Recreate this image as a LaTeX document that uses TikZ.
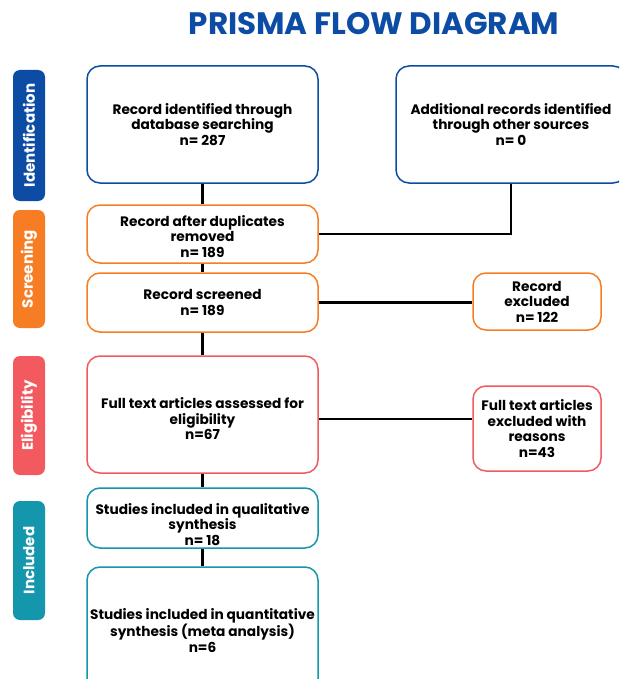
\documentclass[tikz,border=0pt]{standalone}
\usepackage{fontspec}
\setmainfont{Poppins}
\usetikzlibrary{calc}
\definecolor{prisBlue}{RGB}{13,76,164}
\definecolor{prisOrange}{RGB}{247,125,36}
\definecolor{prisRed}{RGB}{242,90,95}
\definecolor{prisTeal}{RGB}{20,150,172}
\newcommand{\tdown}[1]{\rule{0pt}{#1pt}}
\tikzset{
  box/.style={draw=#1, line width=1.5pt, rounded corners=13pt, fill=white,
    align=center, font=\fontsize{13.7}{15.5}\selectfont\bfseries, text=black,
    minimum width=231pt, inner sep=1pt},
  sidelabel/.style={fill=#1, rounded corners=7pt, rotate=90, text=white,
    font=\fontsize{15}{16}\selectfont\bfseries, minimum height=32pt, inner sep=0pt},
  link/.style={line width=2.3pt, black},
}
\begin{document}
\begin{tikzpicture}[x=1pt,y=-1pt]
\clip (0,0) rectangle (619,679);
\fill[white] (0,0) rectangle (619,679);
\node[text=prisBlue, font=\fontsize{31}{34}\selectfont\bfseries] (title) at (374,24) {PRISMA FLOW DIAGRAM};

\node[sidelabel=prisBlue, minimum width=131pt] (lid) at (29,135.5) {Identification};
\node[sidelabel=prisOrange, minimum width=118pt] (lsc) at (29,269) {Screening};
\node[sidelabel=prisRed, minimum width=119pt] (lel) at (29,415.5) {Eligibility};
\node[sidelabel=prisTeal, minimum width=119pt] (lin) at (29,560.5) {Included};

\node[box=prisBlue, minimum height=117pt] (b1) at (202.5,124.5) {Record identified through\\database searching\\n= 287};
\node[box=prisBlue, minimum height=117pt, minimum width=230pt] (b2) at (511,124.5) {Additional records identified\\through other sources\\n= 0};
\node[box=prisOrange, minimum height=58pt] (b3) at (202.5,234) {\tdown{16}Record after duplicates\\removed\\n= 189};
\node[box=prisOrange, minimum height=59pt] (b4) at (202.5,302.5) {Record screened\\n= 189};
\node[box=prisOrange, minimum height=57pt, minimum width=128pt] (b5) at (537,301.5) {Record\\excluded\\n= 122};
\node[box=prisRed, minimum height=117pt] (b6) at (202.5,414.5) {\tdown{20}Full text articles assessed for\\eligibility\\n=67};
\node[box=prisRed, minimum height=85pt, minimum width=128pt] (b7) at (537,428.5) {Full text articles\\excluded with\\reasons\\n=43};
\node[box=prisTeal, minimum height=60pt] (b8) at (202.5,518) {\tdown{24}Studies included in qualitative\\synthesis\\n= 18};
\node[box=prisTeal, minimum height=127pt] (b9) at (202.5,630.5) {Studies included in quantitative\\synthesis (meta analysis)\\n=6};

\draw[link] (b1.south) -- (b3.north);
\draw[link] (b2.south) |- (b3.east);
\draw[link] (b3.south) -- (b4.north);
\draw[link] (b4.east) -- (b4.east -| b5.west);
\draw[link] (b4.south) -- (b6.north);
\draw[link] ($(b6.east)+(0,4.5)$) -- ($(b6.east -| b7.west)+(0,4.5)$);
\draw[link] (b6.south) -- (b8.north);
\draw[link] (b8.south) -- (b9.north);
\end{tikzpicture}
\end{document}
